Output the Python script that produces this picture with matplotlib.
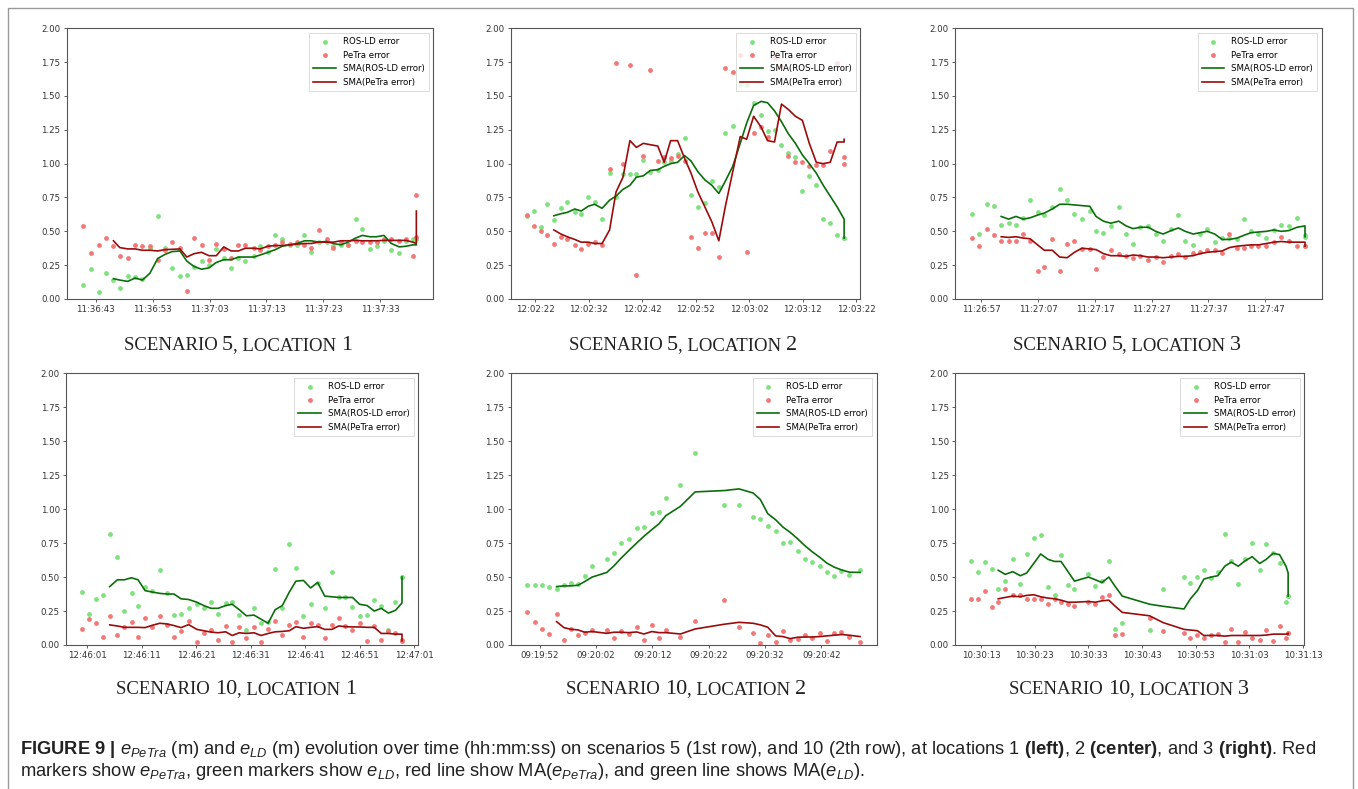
import matplotlib
matplotlib.use("Agg")
import matplotlib.pyplot as plt
from matplotlib.ticker import MultipleLocator, FuncFormatter
from matplotlib.offsetbox import TextArea, HPacker, AnnotationBbox
from matplotlib.patches import Rectangle

plt.rcParams["mathtext.fontset"] = "custom"
plt.rcParams["mathtext.rm"] = "Liberation Sans"
plt.rcParams["mathtext.it"] = "Liberation Sans:italic"
plt.rcParams["mathtext.bf"] = "Liberation Sans:bold"

# seconds after the first tick label of each panel
# SMA series start at the 5th sample (window of 5)

# scenario 5, location 1 (first tick 11:36:43)
t_s5_l1 = [-2.2, -0.8, 0.5, 1.7, 3.1, 4.2, 5.6, 6.9, 8.2, 9.5, 10.9, 12.2, 13.4, 14.8, 16.0, 17.3,
           18.6, 19.9, 21.2, 22.5, 23.8, 25.1, 26.3, 27.8, 28.9, 30.3, 31.6, 32.8, 34.1, 35.4, 36.7,
           37.9, 39.2, 40.6, 41.8, 43.1, 44.4, 45.7, 46.9, 48.2, 49.4, 50.7, 52.0, 53.4, 54.6, 55.8,
           56.4, 56.4]
ros_s5_l1 = [0.10, 0.22, 0.05, 0.19, 0.14, 0.08, 0.17, 0.16, 0.15, 0.38, 0.61, 0.38, 0.23, 0.17, 0.18,
             0.24, 0.28, 0.25, 0.37, 0.30, 0.23, 0.30, 0.28, 0.32, 0.39, 0.35, 0.47, 0.44, 0.40, 0.40,
             0.47, 0.35, 0.42, 0.42, 0.39, 0.40, 0.40, 0.59, 0.52, 0.37, 0.39, 0.43, 0.36, 0.34, 0.43,
             0.44, 0.44, 0.44]
petra_s5_l1 = [0.54, 0.34, 0.40, 0.45, 0.39, 0.32, 0.30, 0.40, 0.39, 0.39, 0.29, 0.36, 0.42, 0.38, 0.06,
               0.45, 0.40, 0.29, 0.41, 0.37, 0.30, 0.40, 0.40, 0.38, 0.36, 0.39, 0.40, 0.42, 0.41, 0.42,
               0.40, 0.38, 0.51, 0.44, 0.38, 0.42, 0.40, 0.43, 0.42, 0.42, 0.42, 0.44, 0.44, 0.43, 0.44,
               0.32, 0.77, 0.46]
sma_ros_s5_l1 = [0.15, 0.14, 0.13, 0.155, 0.14, 0.19, 0.30, 0.33, 0.35, 0.355, 0.28, 0.24, 0.22, 0.23,
                 0.27, 0.29, 0.29, 0.31, 0.31, 0.31, 0.325, 0.345, 0.365, 0.39, 0.40, 0.41, 0.43, 0.43,
                 0.42, 0.425, 0.41, 0.40, 0.42, 0.45, 0.47, 0.46, 0.46, 0.47, 0.41, 0.385, 0.39, 0.40,
                 0.40, 0.40]
sma_petra_s5_l1 = [0.43, 0.38, 0.37, 0.37, 0.36, 0.36, 0.355, 0.365, 0.367, 0.37, 0.31, 0.335, 0.345,
                   0.32, 0.32, 0.385, 0.355, 0.355, 0.375, 0.375, 0.37, 0.39, 0.395, 0.395, 0.40, 0.405,
                   0.41, 0.41, 0.42, 0.42, 0.42, 0.43, 0.43, 0.433, 0.43, 0.43, 0.43, 0.433, 0.433, 0.433,
                   0.433, 0.42, 0.41, 0.65]

# scenario 5, location 2 (first tick 12:02:22)
t_s5_l2 = [-1.6, -0.3, 1.0, 2.2, 3.5, 4.8, 6.0, 7.4, 8.6, 9.9, 11.1, 12.5, 13.9, 15.1, 16.4, 17.7,
           18.9, 20.2, 21.5, 22.9, 24.1, 25.3, 26.6, 27.9, 29.1, 30.4, 31.7, 33.0, 34.3, 35.5, 36.9,
           38.3, 39.5, 40.8, 42.2, 43.4, 44.7, 46.0, 47.3, 48.6, 49.9, 51.2, 52.5, 53.8, 55.1, 56.4,
           57.7, 57.7]
ros_s5_l2 = [0.61, 0.65, 0.53, 0.70, 0.58, 0.67, 0.72, 0.64, 0.63, 0.75, 0.72, 0.59, 0.93, 0.75, 0.92,
             0.92, 0.92, 1.03, 0.94, 0.95, 1.01, 1.02, 1.07, 1.19, 0.77, 0.68, 0.71, 0.87, 0.83, 1.23,
             1.28, 1.58, 1.58, 1.45, 1.36, 1.24, 1.25, 1.14, 1.08, 1.05, 0.80, 0.91, 0.84, 0.59, 0.56,
             0.47, 0.45, 0.45]
petra_s5_l2 = [0.62, 0.54, 0.50, 0.47, 0.41, 0.46, 0.44, 0.40, 0.37, 0.41, 0.42, 0.40, 0.96, 1.74, 1.00,
               1.73, 0.18, 1.06, 1.69, 1.02, 1.05, 1.04, 1.06, 1.02, 0.46, 0.38, 0.49, 0.49, 0.31, 1.71,
               1.68, 1.80, 0.35, 1.23, 1.27, 1.20, 1.78, 1.72, 1.06, 1.01, 1.01, 0.98, 0.99, 0.99, 1.09,
               1.74, 1.05, 1.00]
sma_ros_s5_l2 = [0.615, 0.63, 0.64, 0.665, 0.65, 0.685, 0.70, 0.67, 0.73, 0.76, 0.81, 0.84, 0.90, 0.91,
                 0.95, 0.955, 0.98, 1.00, 1.01, 1.06, 1.02, 0.94, 0.88, 0.84, 0.78, 0.87, 0.98, 1.15,
                 1.30, 1.43, 1.46, 1.45, 1.39, 1.31, 1.22, 1.15, 1.065, 1.00, 0.93, 0.84, 0.76, 0.68,
                 0.59, 0.45]
sma_petra_s5_l2 = [0.51, 0.48, 0.46, 0.44, 0.42, 0.42, 0.41, 0.41, 0.51, 0.79, 0.90, 1.17, 1.12, 1.15,
                   1.14, 1.13, 1.01, 1.17, 1.17, 1.04, 0.93, 0.79, 0.68, 0.57, 0.43, 0.68, 0.94, 1.20,
                   1.18, 1.35, 1.27, 1.17, 1.16, 1.44, 1.40, 1.35, 1.32, 1.15, 1.01, 1.00, 1.01, 1.16,
                   1.16, 1.18]

# scenario 5, location 3 (first tick 11:26:57)
t_s5_l3 = [-1.7, -0.4, 1.0, 2.2, 3.5, 4.8, 6.1, 7.4, 8.6, 9.9, 11.1, 12.5, 13.8, 15.1, 16.4, 17.7,
           19.1, 20.2, 21.5, 22.8, 24.2, 25.5, 26.7, 28.0, 29.4, 30.7, 32.0, 33.4, 34.7, 35.9, 37.3,
           38.5, 39.8, 41.1, 42.4, 43.7, 45.0, 46.2, 47.5, 48.8, 50.2, 51.5, 52.8, 54.1, 55.6, 57.0,
           57.0]
ros_s5_l3 = [0.63, 0.48, 0.70, 0.69, 0.55, 0.56, 0.55, 0.60, 0.73, 0.645, 0.62, 0.68, 0.81, 0.73, 0.63,
             0.59, 0.65, 0.50, 0.49, 0.54, 0.68, 0.48, 0.41, 0.53, 0.54, 0.48, 0.43, 0.52, 0.62, 0.43,
             0.40, 0.48, 0.52, 0.42, 0.45, 0.45, 0.44, 0.59, 0.50, 0.48, 0.45, 0.51, 0.55, 0.54, 0.60,
             0.47, 0.46]
petra_s5_l3 = [0.45, 0.39, 0.52, 0.47, 0.43, 0.43, 0.43, 0.48, 0.43, 0.21, 0.24, 0.44, 0.21, 0.41, 0.43,
               0.37, 0.37, 0.22, 0.31, 0.36, 0.33, 0.32, 0.30, 0.32, 0.29, 0.31, 0.27, 0.32, 0.33, 0.31,
               0.34, 0.35, 0.36, 0.36, 0.34, 0.48, 0.38, 0.38, 0.39, 0.39, 0.39, 0.42, 0.46, 0.43, 0.39,
               0.39, 0.39]
sma_ros_s5_l3 = [0.61, 0.59, 0.61, 0.59, 0.60, 0.62, 0.635, 0.665, 0.70, 0.70, 0.695, 0.69, 0.685, 0.61,
                 0.575, 0.56, 0.575, 0.54, 0.52, 0.53, 0.53, 0.50, 0.48, 0.505, 0.525, 0.50, 0.48, 0.49,
                 0.50, 0.48, 0.44, 0.44, 0.45, 0.47, 0.49, 0.495, 0.50, 0.51, 0.50, 0.505, 0.53, 0.54,
                 0.46]
sma_petra_s5_l3 = [0.46, 0.455, 0.46, 0.45, 0.445, 0.40, 0.36, 0.36, 0.31, 0.305, 0.345, 0.375, 0.37,
                   0.365, 0.335, 0.32, 0.32, 0.315, 0.325, 0.32, 0.31, 0.31, 0.305, 0.31, 0.315, 0.315,
                   0.32, 0.335, 0.345, 0.35, 0.355, 0.38, 0.39, 0.395, 0.40, 0.40, 0.41, 0.42, 0.425,
                   0.42, 0.42, 0.42, 0.39]

# scenario 10, location 1 (first tick 12:46:01)
t_s10_l1 = [-1.0, 0.2, 1.5, 2.8, 4.1, 5.5, 6.8, 8.1, 9.3, 10.6, 11.9, 13.3, 14.6, 15.9, 17.2, 18.6,
            20.1, 21.4, 22.7, 24.0, 25.4, 26.6, 27.9, 29.2, 30.6, 31.9, 33.2, 34.5, 35.8, 37.1, 38.3,
            39.7, 41.0, 42.3, 43.6, 44.9, 46.2, 47.4, 48.7, 50.0, 51.4, 52.7, 54.0, 55.3, 56.6, 57.8,
            57.8]
ros_s10_l1 = [0.39, 0.23, 0.34, 0.37, 0.82, 0.65, 0.25, 0.38, 0.29, 0.43, 0.40, 0.55, 0.38, 0.22, 0.23,
              0.27, 0.30, 0.27, 0.32, 0.23, 0.31, 0.32, 0.22, 0.11, 0.27, 0.16, 0.17, 0.56, 0.27, 0.74,
              0.57, 0.21, 0.30, 0.46, 0.27, 0.54, 0.35, 0.35, 0.28, 0.21, 0.22, 0.33, 0.29, 0.11, 0.32,
              0.50, 0.50]
petra_s10_l1 = [0.12, 0.19, 0.16, 0.06, 0.21, 0.07, 0.13, 0.17, 0.06, 0.20, 0.13, 0.21, 0.15, 0.06, 0.10,
                0.18, 0.02, 0.09, 0.11, 0.04, 0.14, 0.02, 0.13, 0.05, 0.13, 0.02, 0.12, 0.18, 0.07, 0.15,
                0.17, 0.06, 0.16, 0.15, 0.05, 0.15, 0.20, 0.14, 0.11, 0.16, 0.03, 0.14, 0.04, 0.10, 0.09,
                0.04, 0.03]
sma_ros_s10_l1 = [0.43, 0.48, 0.48, 0.495, 0.48, 0.40, 0.39, 0.38, 0.375, 0.375, 0.34, 0.335, 0.315, 0.29,
                  0.27, 0.27, 0.29, 0.30, 0.26, 0.215, 0.22, 0.19, 0.16, 0.26, 0.29, 0.39, 0.47, 0.475,
                  0.42, 0.46, 0.36, 0.355, 0.35, 0.35, 0.35, 0.30, 0.29, 0.25, 0.27, 0.235, 0.255, 0.31,
                  0.50]
sma_petra_s10_l1 = [0.148, 0.14, 0.13, 0.13, 0.13, 0.128, 0.145, 0.16, 0.155, 0.143, 0.128, 0.15, 0.115,
                    0.105, 0.095, 0.09, 0.097, 0.07, 0.09, 0.085, 0.09, 0.07, 0.085, 0.097, 0.10, 0.105,
                    0.135, 0.123, 0.13, 0.135, 0.115, 0.115, 0.14, 0.135, 0.133, 0.133, 0.13, 0.13,
                    0.085, 0.085, 0.08, 0.08, 0.03]

# scenario 10, location 2 (first tick 09:19:52)
t_s10_l2 = [-2.2, -0.9, 0.4, 1.7, 3.0, 4.3, 5.5, 6.8, 8.0, 9.3, 11.9, 13.2, 14.4, 15.8, 17.2, 18.5,
            19.9, 21.2, 22.4, 25.0, 27.6, 32.8, 35.4, 37.9, 39.2, 40.5, 41.9, 43.2, 44.5, 45.8, 47.1,
            48.4, 49.7, 51.0, 52.3, 53.6, 55.0, 56.9]
ros_s10_l2 = [0.44, 0.44, 0.44, 0.43, 0.41, 0.44, 0.46, 0.45, 0.51, 0.58, 0.63, 0.68, 0.75, 0.78, 0.86,
              0.87, 0.97, 0.98, 1.08, 1.18, 1.41, 1.03, 1.03, 0.945, 0.93, 0.875, 0.84, 0.75, 0.755,
              0.69, 0.63, 0.61, 0.58, 0.535, 0.51, 0.545, 0.515, 0.55]
petra_s10_l2 = [0.24, 0.17, 0.12, 0.08, 0.23, 0.04, 0.12, 0.07, 0.09, 0.11, 0.11, 0.05, 0.10, 0.08, 0.13,
                0.04, 0.15, 0.05, 0.11, 0.06, 0.18, 0.33, 0.13, 0.09, 0.015, 0.07, 0.02, 0.10, 0.04,
                0.045, 0.07, 0.05, 0.085, 0.03, 0.085, 0.095, 0.06, 0.02]
sma_ros_s10_l2 = [0.43, 0.435, 0.435, 0.44, 0.467, 0.50, 0.534, 0.583, 0.637, 0.694, 0.75, 0.80, 0.849,
                  0.893, 0.952, 1.021, 1.127, 1.137, 1.149, 1.119, 1.07, 0.967, 0.922, 0.868, 0.829,
                  0.782, 0.731, 0.686, 0.647, 0.603, 0.573, 0.553, 0.536, 0.534]
sma_petra_s10_l2 = [0.172, 0.128, 0.116, 0.111, 0.094, 0.099, 0.086, 0.094, 0.094, 0.091, 0.096, 0.081,
                    0.099, 0.091, 0.091, 0.081, 0.118, 0.153, 0.167, 0.160, 0.148, 0.131, 0.067, 0.062,
                    0.047, 0.057, 0.059, 0.059, 0.062, 0.067, 0.072, 0.077, 0.072, 0.062]

# scenario 10, location 3 (first tick 10:30:13)
t_s10_l3 = [-1.9, -0.6, 0.7, 2.0, 3.2, 4.5, 5.9, 7.3, 8.5, 9.8, 11.1, 12.5, 13.7, 14.9, 16.2, 17.4,
            20.0, 21.3, 22.5, 23.8, 25.0, 26.3, 31.4, 33.9, 37.8, 39.0, 40.3, 41.5, 42.8, 44.1, 45.4,
            46.6, 47.9, 49.2, 50.5, 51.9, 53.1, 54.4, 55.6, 56.8, 57.2, 57.2]
ros_s10_l3 = [0.62, 0.54, 0.61, 0.56, 0.41, 0.47, 0.63, 0.45, 0.67, 0.79, 0.81, 0.43, 0.37, 0.66, 0.44,
              0.41, 0.525, 0.435, 0.47, 0.62, 0.12, 0.16, 0.11, 0.41, 0.50, 0.46, 0.50, 0.55, 0.49, 0.54,
              0.82, 0.62, 0.45, 0.63, 0.75, 0.55, 0.74, 0.68, 0.60, 0.32, 0.36, 0.36]
petra_s10_l3 = [0.34, 0.34, 0.40, 0.28, 0.32, 0.41, 0.37, 0.37, 0.34, 0.34, 0.34, 0.30, 0.34, 0.32, 0.30,
                0.29, 0.32, 0.30, 0.355, 0.365, 0.07, 0.08, 0.20, 0.10, 0.09, 0.05, 0.07, 0.05, 0.07,
                0.08, 0.025, 0.12, 0.025, 0.095, 0.05, 0.04, 0.11, 0.03, 0.14, 0.05, 0.09, 0.09]
sma_ros_s10_l3 = [0.55, 0.52, 0.54, 0.51, 0.53, 0.60, 0.67, 0.63, 0.615, 0.615, 0.54, 0.47, 0.50, 0.48,
                  0.46, 0.50, 0.43, 0.36, 0.30, 0.285, 0.265, 0.34, 0.40, 0.485, 0.50, 0.51, 0.58, 0.61,
                  0.58, 0.62, 0.65, 0.60, 0.63, 0.675, 0.665, 0.58, 0.53, 0.36]
sma_petra_s10_l3 = [0.34, 0.35, 0.36, 0.355, 0.365, 0.37, 0.355, 0.345, 0.34, 0.33, 0.315, 0.315, 0.32,
                    0.315, 0.325, 0.33, 0.285, 0.24, 0.215, 0.165, 0.115, 0.11, 0.105, 0.07, 0.07, 0.07,
                    0.065, 0.07, 0.07, 0.07, 0.07, 0.07, 0.073, 0.08, 0.08, 0.08, 0.08, 0.085]

SMA_START = 4
y_ticks = [0.0, 0.25, 0.5, 0.75, 1.0, 1.25, 1.5, 1.75, 2.0]

panels = [
    ("5", "1", "11:36:43", t_s5_l1, ros_s5_l1, petra_s5_l1, sma_ros_s5_l1, sma_petra_s5_l1),
    ("5", "2", "12:02:22", t_s5_l2, ros_s5_l2, petra_s5_l2, sma_ros_s5_l2, sma_petra_s5_l2),
    ("5", "3", "11:26:57", t_s5_l3, ros_s5_l3, petra_s5_l3, sma_ros_s5_l3, sma_petra_s5_l3),
    ("10", "1", "12:46:01", t_s10_l1, ros_s10_l1, petra_s10_l1, sma_ros_s10_l1, sma_petra_s10_l1),
    ("10", "2", "09:19:52", t_s10_l2, ros_s10_l2, petra_s10_l2, sma_ros_s10_l2, sma_petra_s10_l2),
    ("10", "3", "10:30:13", t_s10_l3, ros_s10_l3, petra_s10_l3, sma_ros_s10_l3, sma_petra_s10_l3),
]

W, H = 1358, 789
# axes boxes in pixels: left, top, right, bottom
boxes = [(66.7, 28.3, 433, 299), (510.7, 28.3, 860, 299), (955, 28.3, 1321.7, 299),
         (66, 373.3, 418, 645), (510.7, 373.3, 876.7, 645), (955, 373.3, 1304, 645)]
title_pos = [(238, 346), (683, 346), (1127, 346), (236, 690), (686, 690), (1129, 690)]

GREEN_PT = "#7fe27f"
RED_PT = "#f27878"
GREEN_LN = "#0b6e0b"
RED_LN = "#9a0b0b"
TEXT = "#222222"


def time_formatter(start):
    h, m, s = (int(v) for v in start.split(":"))
    base = h * 3600 + m * 60 + s

    def fmt(x, pos):
        total = int(round(base + x))
        return "%02d:%02d:%02d" % (total // 3600, total // 60 % 60, total % 60)
    return FuncFormatter(fmt)


def add_title(fig, x, y, scenario, location):
    small = dict(family="Liberation Serif", size=13.5, color=TEXT)
    big = dict(family="Liberation Serif", size=16, color=TEXT)
    parts = [TextArea("SCENARIO ", textprops=small), TextArea(scenario, textprops=big),
             TextArea(", LOCATION ", textprops=small), TextArea(location, textprops=big)]
    box = HPacker(children=parts, align="baseline", pad=0, sep=0)
    ab = AnnotationBbox(box, (x / W, 1 - y / H), xycoords="figure fraction",
                        frameon=False, box_alignment=(0.5, 0.5))
    fig.add_artist(ab)


fig = plt.figure(figsize=(W / 100, H / 100), dpi=100)

for (scen, loc, start, t, ros, petra, sma_ros, sma_petra), (l, tp, r, b), (tx, ty) in zip(panels, boxes, title_pos):
    ax = fig.add_axes([l / W, 1 - b / H, (r - l) / W, (b - tp) / H])
    p1 = ax.scatter(t, ros, s=12, color=GREEN_PT, linewidths=0, label="ROS-LD error")
    p2 = ax.scatter(t, petra, s=12, color=RED_PT, linewidths=0, label="PeTra error")
    l1, = ax.plot(t[SMA_START:], sma_ros, color=GREEN_LN, lw=1.2, label="SMA(ROS-LD error)")
    l2, = ax.plot(t[SMA_START:], sma_petra, color=RED_LN, lw=1.2, label="SMA(PeTra error)")
    ax.set_ylim(0, 2)
    ax.set_yticks(y_ticks)
    ax.yaxis.set_major_formatter(FuncFormatter(lambda v, p: "%.2f" % v))
    ax.xaxis.set_major_locator(MultipleLocator(10))
    ax.xaxis.set_major_formatter(time_formatter(start))
    ax.tick_params(labelsize=6.2, length=2.5, width=0.6, colors="#444444", labelcolor="#333333", pad=2)
    for sp in ax.spines.values():
        sp.set_color("#555555")
        sp.set_linewidth(0.8)
    leg = ax.legend(handles=[p1, p2, l1, l2], loc="upper right", fontsize=6.2, scatterpoints=1,
                    handlelength=2.6, borderpad=0.5, labelspacing=0.55, fancybox=False)
    leg.get_frame().set_linewidth(0.6)
    leg.get_frame().set_edgecolor("#cccccc")
    add_title(fig, tx, ty, scen, loc)

line1 = (r"$\mathbf{FIGURE\ 9\ |}$ $e_{PeTra}$ (m) and $e_{LD}$ (m) evolution over time (hh:mm:ss) on "
         r"scenarios 5 (1st row), and 10 (2th row), at locations 1 $\mathbf{(left)}$, 2 "
         r"$\mathbf{(center)}$, and 3 $\mathbf{(right)}$. Red")
line2 = (r"markers show $e_{PeTra}$, green markers show $e_{LD}$, red line show MA($e_{PeTra}$), "
         r"and green line shows MA($e_{LD}$).")
fig.text(20 / W, 1 - 749 / H, line1, fontsize=13.2, family="Liberation Sans", color=TEXT, va="center")
fig.text(20 / W, 1 - 772 / H, line2, fontsize=13.2, family="Liberation Sans", color=TEXT, va="center")

fig.add_artist(Rectangle((8 / W, -0.1), (1353 - 8) / W, 1.1 - 8 / H, transform=fig.transFigure,
                         fill=False, edgecolor="#999999", lw=1.0))

fig.savefig("out.png", dpi=100)
